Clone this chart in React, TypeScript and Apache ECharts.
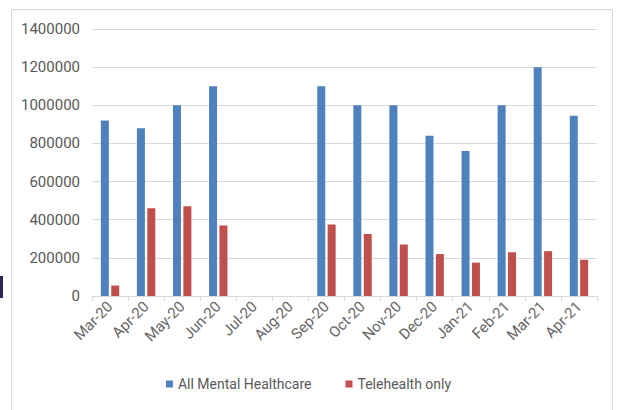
import React, { useEffect, useRef } from "react";
import * as echarts from "echarts";

const categories = [
  "Mar-20", "Apr-20", "May-20", "Jun-20", "Jul-20", "Aug-20", "Sep-20",
  "Oct-20", "Nov-20", "Dec-20", "Jan-21", "Feb-21", "Mar-21", "Apr-21",
];
const allMentalHealthcare = [
  920000, 880000, 1000000, 1100000, null, null, 1100000,
  1000000, 1000000, 840000, 760000, 1000000, 1200000, 945000,
];
const telehealthOnly = [
  55000, 460000, 470000, 370000, null, null, 375000,
  325000, 270000, 220000, 175000, 230000, 235000, 190000,
];
const seriesNames = ["All Mental Healthcare", "Telehealth only"];

export default function App() {
  const ref = useRef<HTMLDivElement>(null);
  useEffect(() => {
    if (!ref.current) return;
    const chart = echarts.init(ref.current, null, { renderer: "svg" });
    const font = "Roboto";
    chart.setOption({
      animation: false,
      backgroundColor: "#ffffff",
      grid: { left: 92, right: 20, top: 29, bottom: 114, containLabel: false },
      graphic: [
        {
          type: "rect",
          shape: { x: 11.5, y: 9.5, width: 601, height: 420 },
          style: { fill: "none", stroke: "#d9d9d9", lineWidth: 1 },
          silent: true,
        },
        {
          type: "rect",
          shape: { x: 0, y: 276, width: 3, height: 22 },
          style: { fill: "#2b2655" },
          silent: true,
        },
      ],
      xAxis: {
        type: "category",
        data: categories,
        axisLine: { lineStyle: { color: "#d9d9d9", width: 1 } },
        axisTick: { show: true, alignWithLabel: false, length: 5, lineStyle: { color: "#d9d9d9" } },
        axisLabel: {
          rotate: 45,
          color: "#666666",
          fontSize: 15,
          fontFamily: font,
          margin: 8,
          interval: 0,
        },
      },
      yAxis: {
        type: "value",
        min: 0,
        max: 1400000,
        interval: 200000,
        axisLine: { show: false },
        axisTick: { show: false },
        splitLine: { lineStyle: { color: "#d9d9d9", width: 1 } },
        axisLabel: {
          color: "#595959",
          fontSize: 15,
          fontFamily: font,
          margin: 12,
          formatter: (v: number) => String(v),
        },
      },
      legend: {
        bottom: 14,
        left: "center",
        icon: "rect",
        itemWidth: 7,
        itemHeight: 7,
        itemGap: 34,
        textStyle: { color: "#595959", fontSize: 14, fontFamily: font },
        data: seriesNames,
      },
      series: [
        {
          name: seriesNames[0],
          type: "bar",
          data: allMentalHealthcare,
          barWidth: 8,
          barGap: "30%",
          itemStyle: { color: "#4f81bd" },
        },
        {
          name: seriesNames[1],
          type: "bar",
          data: telehealthOnly,
          barWidth: 8,
          itemStyle: { color: "#c0504d" },
        },
      ],
    });
    return () => chart.dispose();
  }, []);
  return (
    <div
      ref={ref}
      style={{ position: "fixed", left: 0, top: 0, width: 617, height: 410 }}
    />
  );
}
